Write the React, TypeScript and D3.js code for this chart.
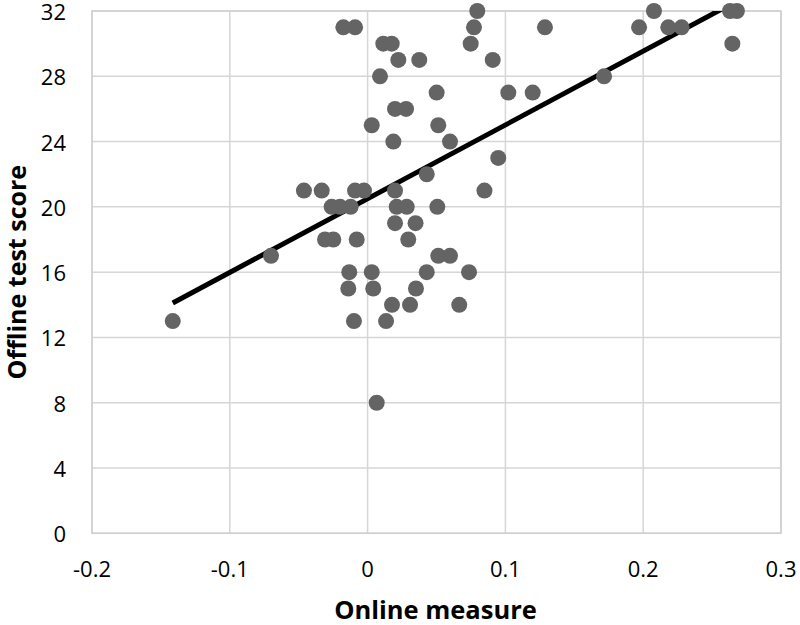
import React from "react";
import * as d3 from "d3";

const onlineMeasure = [
  0.0796, 0.2078, 0.263, 0.268,
  -0.0176, -0.0091, 0.0772, 0.1287, 0.197, 0.2182, 0.2279,
  0.0114, 0.0175, 0.0748, 0.2647,
  0.0223, 0.0375, 0.0908,
  0.009, 0.1716,
  0.0501, 0.1021, 0.1198,
  0.0199, 0.0279,
  0.003, 0.0513,
  0.0187, 0.0598,
  0.0948,
  0.0429,
  -0.0462, -0.0333, -0.0091, -0.0026, 0.0199, 0.0848,
  -0.0261, -0.02, -0.0123, 0.0211, 0.0284, 0.0506,
  0.0199, 0.0348,
  -0.0309, -0.0249, -0.0079, 0.0295,
  -0.0701, 0.0513, 0.0598,
  -0.0133, 0.003, 0.0429, 0.0736,
  -0.014, 0.0041, 0.0351,
  0.0177, 0.0308, 0.0665,
  -0.1414, -0.0099, 0.0134,
  0.0066,
];
const offlineScore = [
  32, 32, 32, 32,
  31, 31, 31, 31, 31, 31, 31,
  30, 30, 30, 30,
  29, 29, 29,
  28, 28,
  27, 27, 27,
  26, 26,
  25, 25,
  24, 24,
  23,
  22,
  21, 21, 21, 21, 21, 21,
  20, 20, 20, 20, 20, 20,
  19, 19,
  18, 18, 18, 18,
  17, 17, 17,
  16, 16, 16, 16,
  15, 15, 15,
  14, 14, 14,
  13, 13, 13,
  8,
];
const xTicks = [-0.2, -0.1, 0, 0.1, 0.2, 0.3];
const xTickLabels = ["-0.2", "-0.1", "0", "0.1", "0.2", "0.3"];
const yTicks = [0, 4, 8, 12, 16, 20, 24, 28, 32];
const trendSlope = 45.2;
const trendIntercept = 20.5;

const W = 800;
const H = 625;
const L = 92;
const R = 781;
const T = 11;
const B = 533.3;

export default function App() {
  const x = d3.scaleLinear().domain([-0.2, 0.3]).range([L, R]);
  const y = d3.scaleLinear().domain([0, 32]).range([B, T]);
  const xmin = d3.min(onlineMeasure) as number;
  const xmax = d3.max(onlineMeasure) as number;
  const line = d3
    .line<number>()
    .x((d) => x(d))
    .y((d) => y(trendIntercept + trendSlope * d));
  const pts = onlineMeasure.map((v, i) => [v, offlineScore[i]] as [number, number]);
  const font = "'Open Sans', sans-serif";
  return (
    <svg
      width={W}
      height={H}
      style={{ position: "absolute", left: 0, top: 0, background: "#fff" }}
    >
      <defs>
        <clipPath id="plotClip">
          <rect x={L} y={T} width={R - L} height={B - T} />
        </clipPath>
      </defs>
      {yTicks.map((t) => (
        <line key={"gy" + t} x1={L} x2={R} y1={y(t)} y2={y(t)} stroke="#d6d6d6" strokeWidth={1.5} />
      ))}
      {xTicks.map((t) => (
        <line key={"gx" + t} x1={x(t)} x2={x(t)} y1={T} y2={B} stroke="#d6d6d6" strokeWidth={1.5} />
      ))}
      <rect x={L} y={T} width={R - L} height={B - T} fill="none" stroke="#cfcfcf" strokeWidth={1.5} />
      <g clipPath="url(#plotClip)">
        <path d={line([xmin, xmax]) || ""} stroke="#000" strokeWidth={5} fill="none" />
      </g>
      {pts.map((p, i) => (
        <circle key={i} cx={x(p[0])} cy={y(p[1])} r={8} fill="#646464" />
      ))}
      {yTicks.map((t) => (
        <text
          key={"ty" + t}
          x={66}
          y={y(t) + 9}
          textAnchor="end"
          fontFamily={font}
          fontSize={22}
          fill="#000"
        >
          {t}
        </text>
      ))}
      {xTicks.map((t, i) => (
        <text
          key={"tx" + t}
          x={x(t)}
          y={577}
          textAnchor="middle"
          fontFamily={font}
          fontSize={22}
          fill="#000"
        >
          {xTickLabels[i]}
        </text>
      ))}
      <text
        x={(L + R) / 2 - 1}
        y={619}
        textAnchor="middle"
        fontFamily={font}
        fontSize={25.5}
        fontWeight="bold"
        fill="#000"
      >
        Online measure
      </text>
      <text
        transform={`translate(26, ${(T + B) / 2}) rotate(-90)`}
        textAnchor="middle"
        fontFamily={font}
        fontSize={25}
        fontWeight="bold"
        fill="#000"
      >
        Offline test score
      </text>
    </svg>
  );
}
